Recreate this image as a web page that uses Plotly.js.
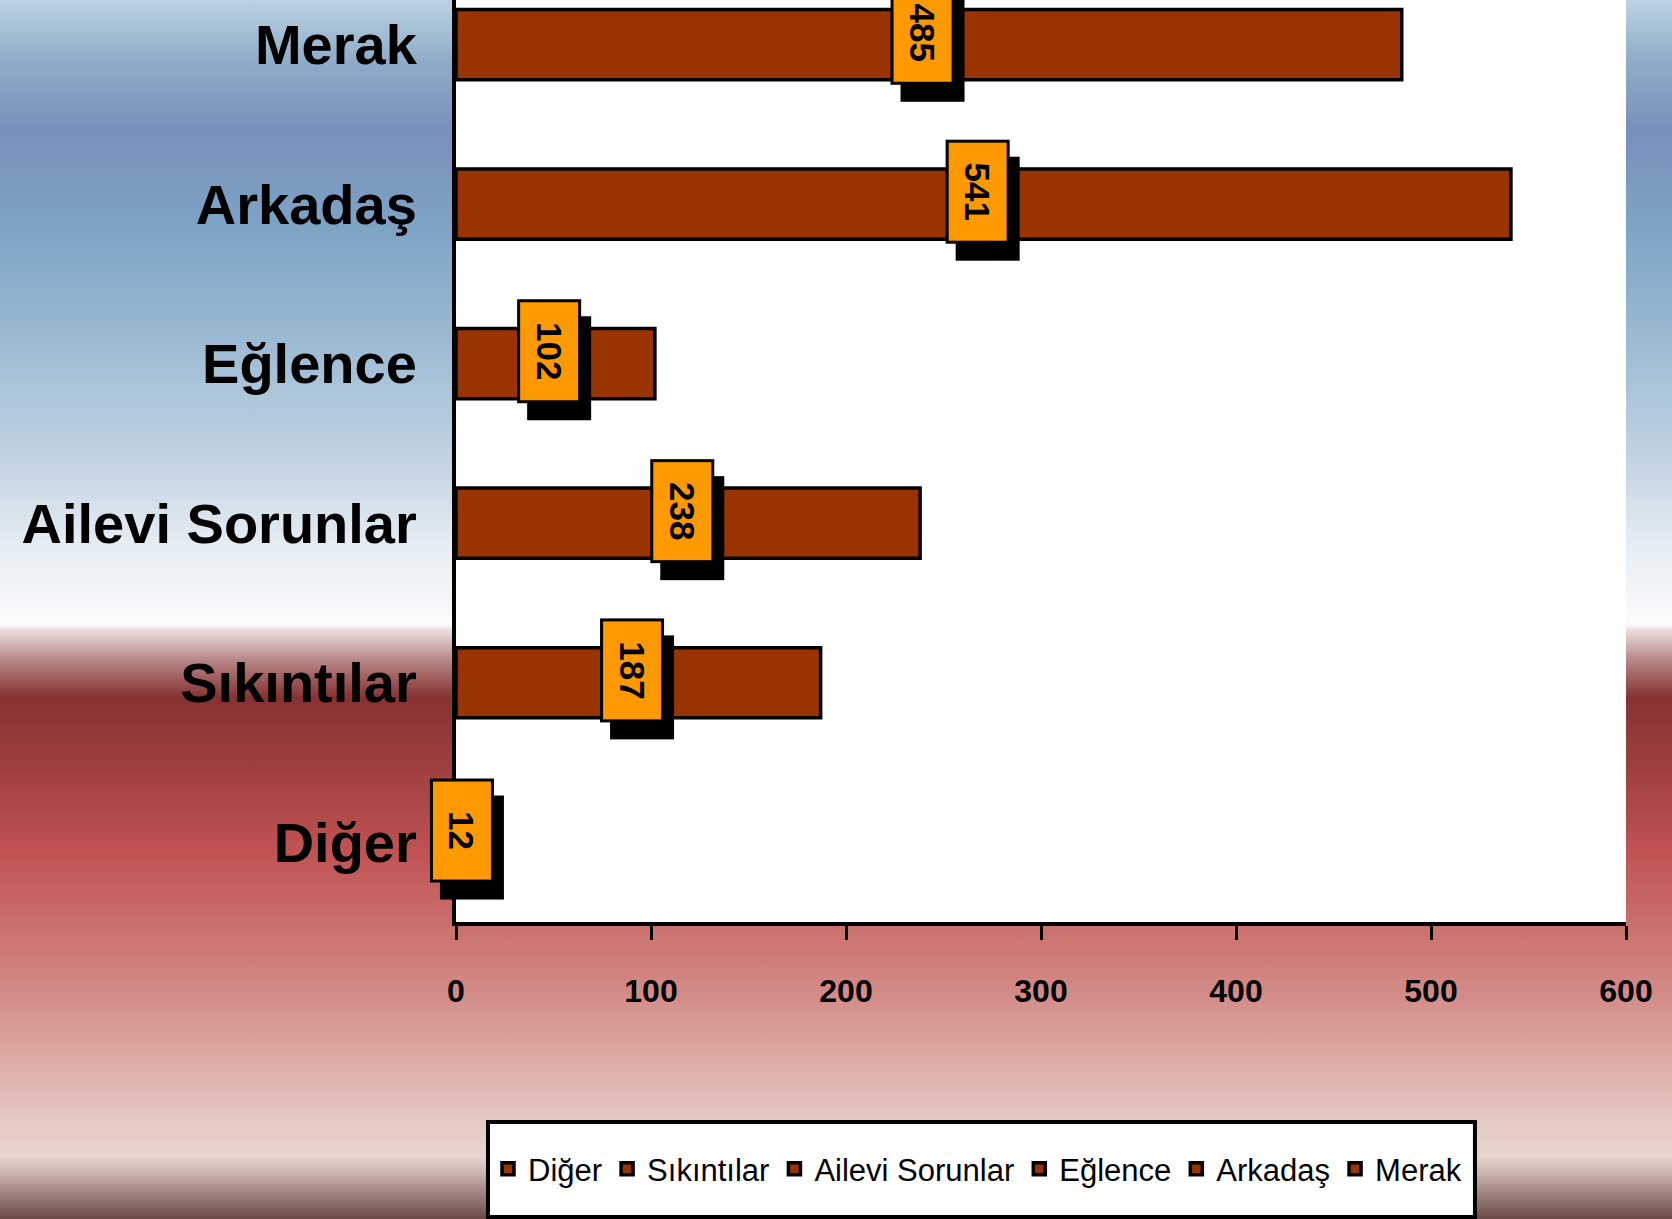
<!DOCTYPE html>
<html>
<head>
<meta charset="utf-8">
<script src="https://cdn.plot.ly/plotly-3.0.1.min.js"></script>
<style>
  html, body { margin: 0; padding: 0; }
  #chart {
    width: 1672px; height: 1219px;
    background: linear-gradient(to bottom,
      #bcd2e2 0%, #8eacc8 5.1%, #7890ba 10.7%, #7ea4c6 18.9%, #9ebcd4 28.7%,
      #c6d6e4 38.6%, #e6edf3 44.7%, #fbfcfd 51.2%, #eadcdc 51.7%, #b88888 54.1%,
      #863232 57.2%, #a34242 64%, #c05252 69.7%, #cb7470 76.7%, #d48e8a 82%,
      #deaca6 87%, #e4c8c2 91.9%, #e8d6d0 94.9%, #c0aaa4 96.6%, #6c4844 100%);
  }
</style>
</head>
<body>
<div id="chart"></div>
<script>
const categories = ["Diğer", "Sıkıntılar", "Ailevi Sorunlar", "Eğlence", "Arkadaş", "Merak"];
const values = [12, 187, 238, 102, 541, 485];
const xTicks = [0, 100, 200, 300, 400, 500, 600];

const sans = "Liberation Sans, Arial, sans-serif";

const traces = categories.map((c, i) => ({
  type: "bar",
  orientation: "h",
  name: c,
  y: [c],
  x: [values[i]],
  width: 0.44,
  marker: { color: "#993300", line: { color: "#000000", width: 3.5 } },
  hoverinfo: "x+y"
}));

const annotations = [];
categories.forEach((c, i) => {
  annotations.push({
    x: values[i] / 2, y: c, xref: "x", yref: "y",
    text: " ", showarrow: false, textangle: 90,
    width: 104, height: 64, bgcolor: "#000000", borderwidth: 0, borderpad: 0,
    xshift: 4, yshift: -5
  });
  annotations.push({
    x: values[i] / 2, y: c, xref: "x", yref: "y",
    text: String(values[i]), showarrow: false, textangle: 90,
    width: 96, height: 56, bgcolor: "#FF9900", bordercolor: "#000000",
    borderwidth: 3, borderpad: 1,
    xshift: -6, yshift: 12,
    font: { family: sans, size: 35, color: "#000000", weight: "bold" }
  });
});

const layout = {
  width: 1672, height: 1219,
  margin: { l: 456, r: 46, t: 0, b: 297, pad: 0 },
  paper_bgcolor: "rgba(0,0,0,0)",
  plot_bgcolor: "#ffffff",
  barmode: "overlay",
  showlegend: true,
  xaxis: {
    range: [0, 600], tickvals: xTicks, ticktext: xTicks.map(String),
    ticks: "outside", ticklen: 14, tickwidth: 3, tickcolor: "#000000",
    showline: true, linecolor: "#000000", linewidth: 4,
    showgrid: false, zeroline: false, fixedrange: true,
    ticklabelstandoff: 24,
    tickfont: { family: sans, size: 32, color: "#000000", weight: "bold" }
  },
  yaxis: {
    type: "category", categoryorder: "array", categoryarray: categories,
    range: [-0.5, 5.28],
    ticks: "", showline: true, linecolor: "#000000", linewidth: 4,
    showgrid: false, zeroline: false, fixedrange: true,
    ticklabelstandoff: 24,
    tickfont: { family: sans, size: 56, color: "#000000", weight: "bold" }
  },
  legend: {
    orientation: "h",
    x: 0.02735, xanchor: "left",
    y: -0.268, yanchor: "middle",
    bgcolor: "rgba(0,0,0,0)", borderwidth: 0,
    font: { family: sans, size: 31, color: "#000000" },
    traceorder: "normal",
    itemclick: false, itemdoubleclick: false
  },
  shapes: [{
    type: "rect", xref: "paper", yref: "paper",
    x0: 0.02735, x1: 0.8709, y0: -0.32, y1: -0.2169,
    fillcolor: "#ffffff", line: { color: "#000000", width: 4 }, layer: "above"
  }],
  annotations: annotations
};

Plotly.newPlot("chart", traces, layout, { displayModeBar: false, staticPlot: true });
</script>
</body>
</html>
